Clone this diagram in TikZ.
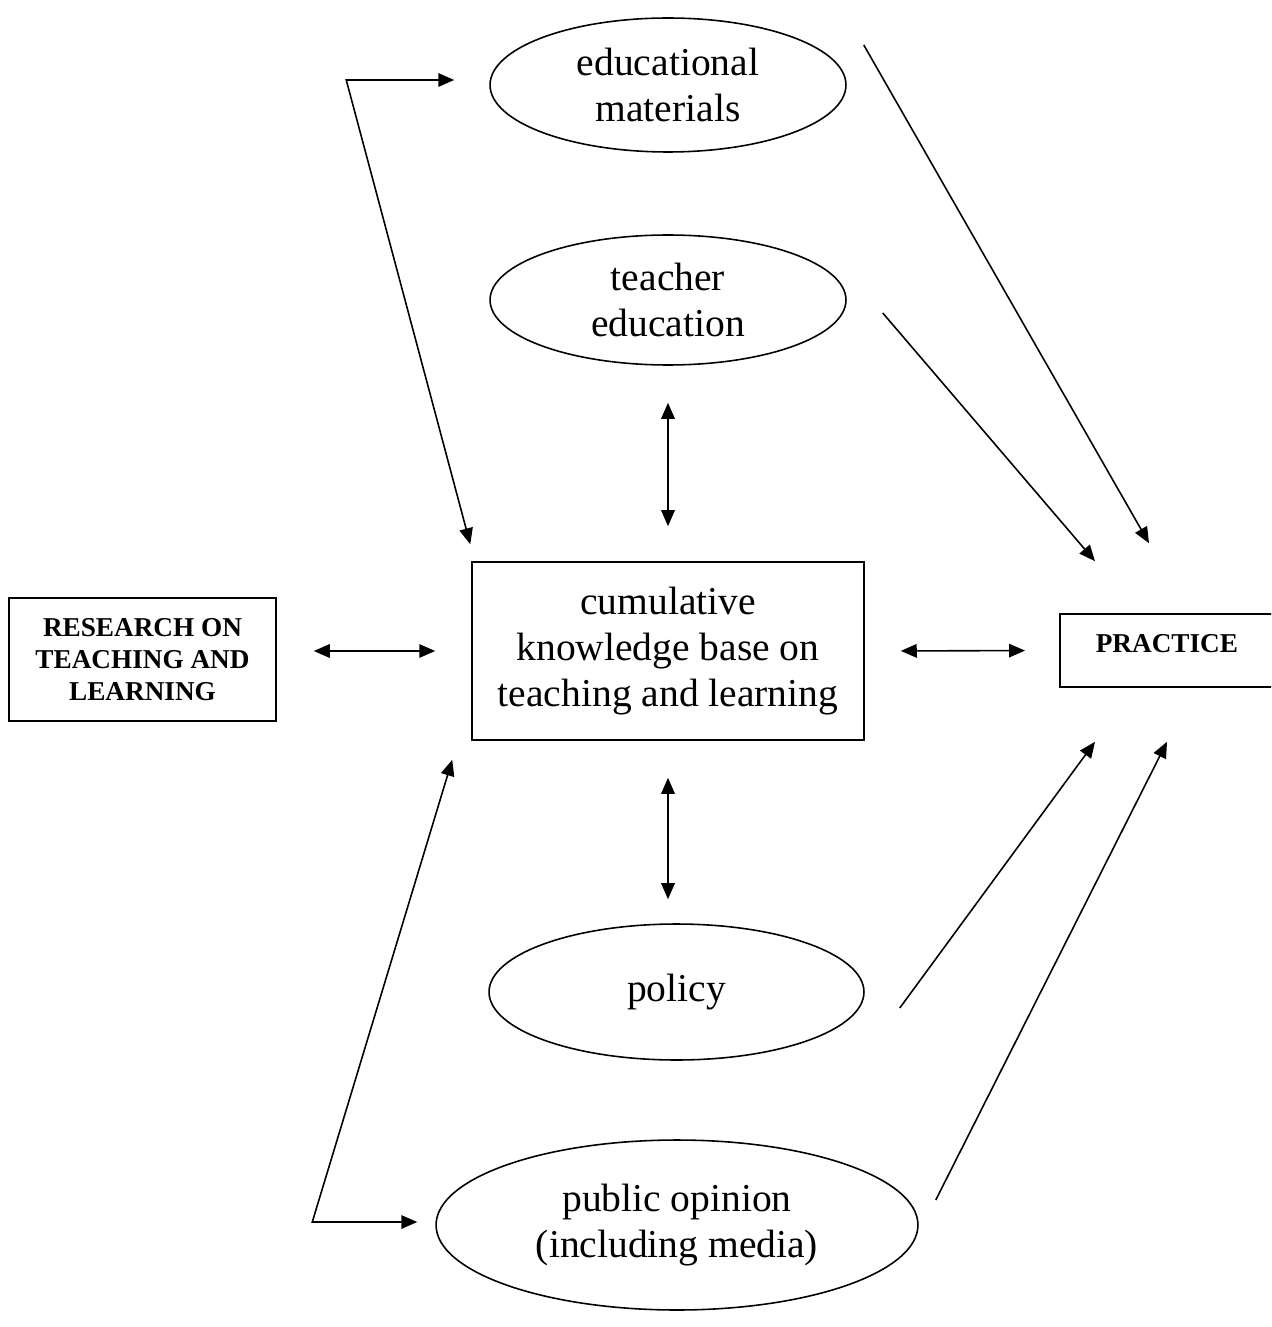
\documentclass[tikz,border=0pt]{standalone}
\usepackage{fontspec}
\setmainfont{Liberation Serif}
\usetikzlibrary{arrows.meta}
\usetikzlibrary{shapes.geometric}
\usetikzlibrary{calc}
\begin{document}
\begin{tikzpicture}[x=0.02cm,y=-0.02cm,>={Triangle[length=0.32cm,width=0.27cm]},line width=0.9pt,
    oval node/.style={ellipse,draw,inner sep=0pt,align=center,font=\fontsize{22.5}{26}\selectfont},
    main box/.style={rectangle,draw,inner sep=0pt,align=center,font=\fontsize{22.5}{26}\selectfont},
    side box/.style={rectangle,draw,inner sep=0pt,align=center,font=\fontsize{15.5}{18}\selectfont\bfseries}]
  \useasboundingbox (0,0) rectangle (1271,1327);
  \clip (0,0) rectangle (1271,1327);
    \node[oval node,minimum width=7.12cm,minimum height=2.68cm] (edu) at (668,85) {educational\\materials};
    \node[oval node,minimum width=7.12cm,minimum height=2.6cm] (teach) at (668,300) {teacher\\education};
    \node[main box,minimum width=7.84cm,minimum height=3.56cm] (know) at (668,651) {cumulative\\knowledge base on\\teaching and learning};
    \node[side box,minimum width=5.34cm,minimum height=2.46cm] (research) at (142.5,659.5) {RESEARCH ON\\TEACHING AND\\LEARNING};
    \node[side box,anchor=west,minimum height=1.46cm,inner xsep=0.72cm,text width=3.5cm,text depth=0.28cm,align=left] (practice) at (1059,650.5) {PRACTICE};
    \node[oval node,minimum width=7.5cm,minimum height=2.72cm] (policy) at (676.5,992) {policy};
    \node[oval node,minimum width=9.64cm,minimum height=3.4cm] (opinion) at (677,1225) {public opinion\\(including media)};
    %% two-way links
    \draw[<->,shorten <=0.74cm,shorten >=0.72cm] (research.east |- know.west) -- (know.west);
    \draw[<->,shorten <=0.72cm,shorten >=0.68cm] (know.east) -- (practice.west);
    \draw[<->,shorten <=0.74cm,shorten >=0.70cm] (teach.south) -- (know.north);
    \draw[<->,shorten <=0.74cm,shorten >=0.48cm] (know.south) -- (know.south |- policy.north);
    \draw[<->] ($(edu.west)+(-35,-5)$) -- ++(-108,0) -- ($(know.north west)+(-1,-17)$);
    \draw[<->] ($(know.south west)+(-19,19)$) -- ($(opinion.west)+(-123,-3)$) -- ($(opinion.west)+(-18,-3)$);
    %% into practice
    \draw[->] ($(edu.east)+(17,-40)$) -- ($(practice.north west)+(90,-70)$);
    \draw[->] ($(teach.east)+(36,13)$) -- ($(practice.north west)+(36,-52)$);
    \draw[->] ($(policy.east)+(35,16)$) -- ($(practice.south west)+(36,54)$);
    \draw[->] ($(opinion.east)+(17,-25)$) -- ($(practice.south west)+(108,54)$);
\end{tikzpicture}
\end{document}
